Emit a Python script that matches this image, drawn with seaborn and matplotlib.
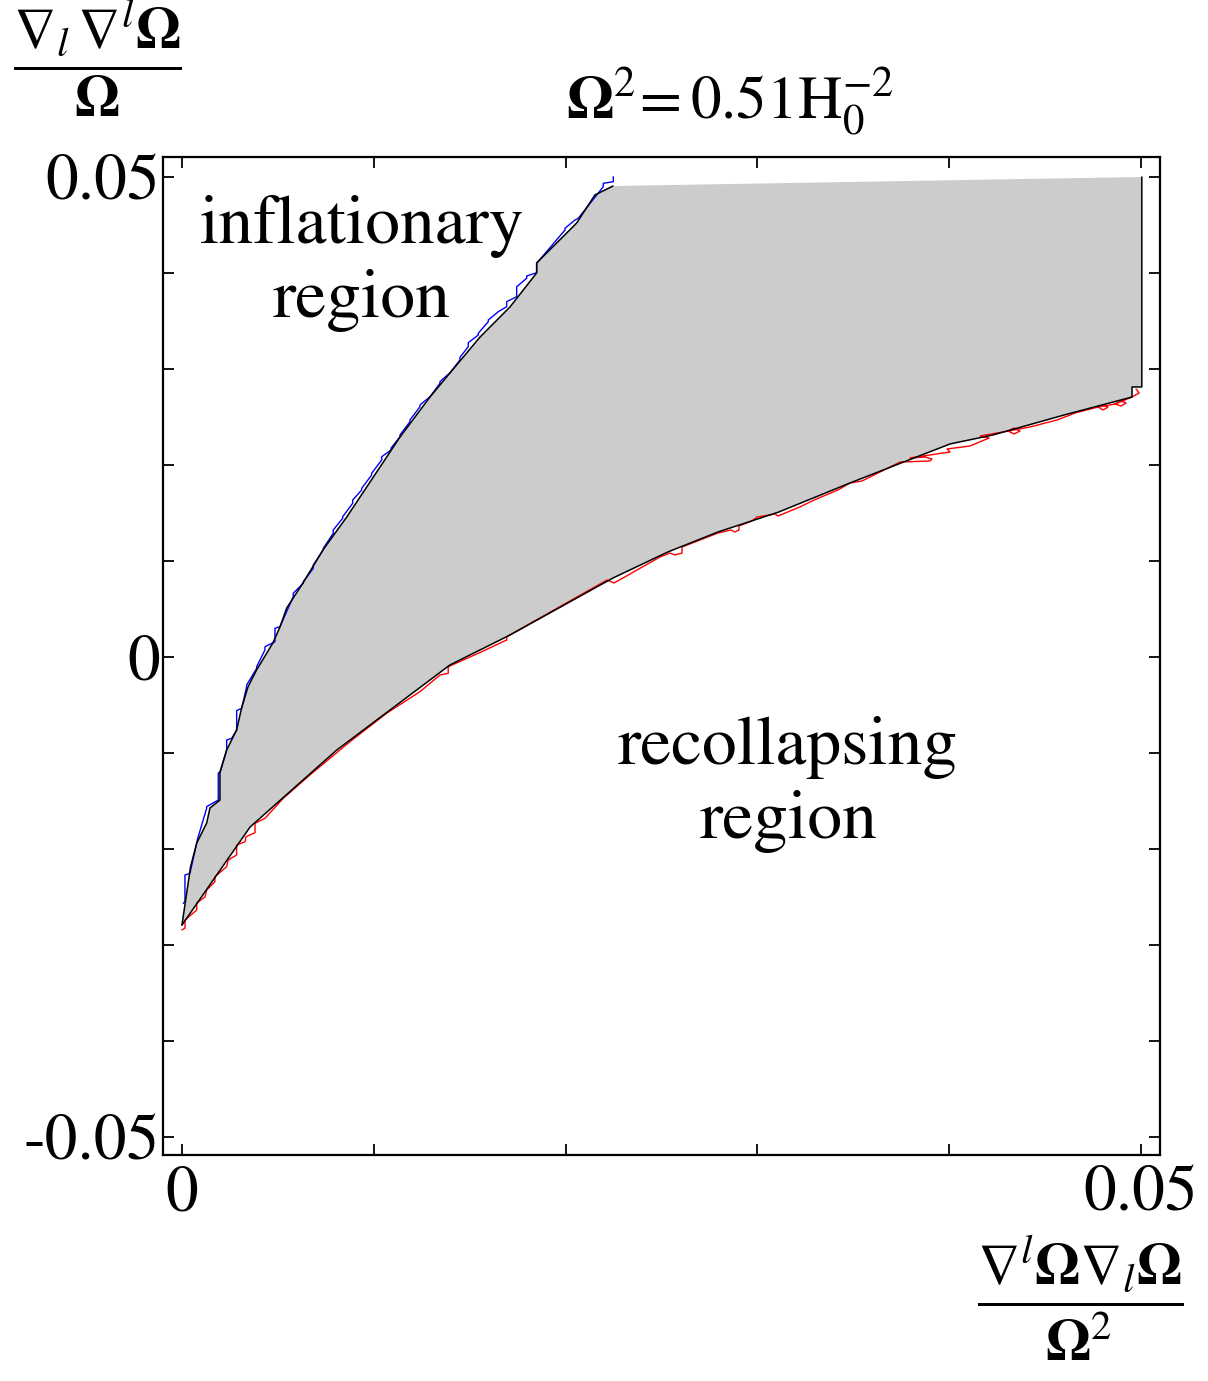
import numpy as np
import pandas as pd
import matplotlib
matplotlib.use("Agg")
import matplotlib.pyplot as plt
import seaborn as sns

# upper-left edge of the gray region (black line), from the bottom corner up
upper_x = [0.0, 0.00045, 0.00077, 0.00129, 0.00146, 0.00198, 0.00198, 0.00233,
           0.00285, 0.00311, 0.00344, 0.00389, 0.00474, 0.00511, 0.00546, 0.00631,
           0.00735, 0.00859, 0.01137, 0.01293, 0.01397, 0.01554, 0.01710, 0.01849,
           0.01849, 0.02058, 0.02153, 0.02247]
upper_y = [-0.02792, -0.02184, -0.01938, -0.01729, -0.01573, -0.01490, -0.01208, -0.00969,
           -0.00760, -0.00531, -0.00313, -0.00135, 0.00146, 0.00313, 0.00510, 0.00771,
           0.01115, 0.01458, 0.02292, 0.02708, 0.02958, 0.03333, 0.03646, 0.04000,
           0.04104, 0.04521, 0.04813, 0.04906]

# right edge + lower edge (black line), from the top right back to the corner
lower_x = [0.05004, 0.05004, 0.04953, 0.04953, 0.04599, 0.04228, 0.04004, 0.03762,
           0.03483, 0.03111, 0.02794, 0.02533, 0.02247, 0.01710, 0.01397, 0.00807,
           0.00355, 0.0]
lower_y = [0.05000, 0.02813, 0.02813, 0.02708, 0.02521, 0.02313, 0.02219, 0.02031,
           0.01813, 0.01510, 0.01302, 0.01094, 0.00823, 0.00229, -0.00083, -0.00969,
           -0.01771, -0.02792]

# blue contour (inflation limit), a staircase just left of the upper edge
blue_pts = [
    (0.000068, -0.02566), (0.000156, -0.02549), (0.000156, -0.02271), (0.000417, -0.02253),
    (0.000766, -0.01941), (0.000798, -0.01906), (0.001288, -0.01576), (0.001288, -0.01559),
    (0.001893, -0.01490), (0.001893, -0.01211), (0.001981, -0.01195), (0.002331, -0.00969),
    (0.002331, -0.00865), (0.002591, -0.00847), (0.002852, -0.00760), (0.002852, -0.00559),
    (0.003113, -0.00534), (0.003373, -0.00309), (0.003373, -0.00292), (0.003895, -0.00118),
    (0.003895, -0.00101), (0.004327, 0.00073), (0.004327, 0.00107), (0.004849, 0.00159),
    (0.004849, 0.00299), (0.005109, 0.00316), (0.005803, 0.00628), (0.005803, 0.00664),
    (0.006324, 0.00768), (0.006324, 0.00784), (0.006846, 0.00924), (0.006846, 0.00958),
    (0.007367, 0.01115), (0.007367, 0.01132), (0.007888, 0.01289), (0.007888, 0.01323),
    (0.008379, 0.01445), (0.008379, 0.01461), (0.008900, 0.01601), (0.008900, 0.01635),
    (0.009369, 0.01740), (0.009369, 0.01757), (0.009891, 0.01896), (0.009891, 0.01914),
    (0.010412, 0.02052), (0.010412, 0.02086), (0.010897, 0.02156), (0.010897, 0.02174),
    (0.011366, 0.02295), (0.011366, 0.02313), (0.011887, 0.02451), (0.011887, 0.02469),
    (0.012409, 0.02607), (0.012409, 0.02625), (0.012930, 0.02711), (0.013452, 0.02851),
    (0.013452, 0.02868), (0.013973, 0.02961), (0.014494, 0.03094), (0.014494, 0.03122),
    (0.014927, 0.03232), (0.014927, 0.03274), (0.015448, 0.03354), (0.015448, 0.03372),
    (0.015970, 0.03493), (0.015970, 0.03510), (0.016491, 0.03597), (0.016929, 0.03649),
    (0.016929, 0.03701), (0.017451, 0.03753), (0.017451, 0.03857), (0.017972, 0.03945),
    (0.017972, 0.03969), (0.018493, 0.04003), (0.018493, 0.04101), (0.019969, 0.04448),
    (0.019969, 0.04466), (0.020490, 0.04552), (0.020662, 0.04570), (0.021966, 0.04899),
    (0.021966, 0.04934), (0.022487, 0.04951), (0.022487, 0.05003),
]

# red contour (recollapse limit), wiggly, just under the lower edge
red_pts = [
    (0.00000, -0.02844), (0.00016, -0.02823), (0.00016, -0.02740), (0.00077, -0.02635),
    (0.00077, -0.02563), (0.00120, -0.02500), (0.00129, -0.02427), (0.00172, -0.02341),
    (0.00172, -0.02289), (0.00233, -0.02184), (0.00241, -0.02115), (0.00285, -0.02063),
    (0.00285, -0.01958), (0.00329, -0.01924), (0.00334, -0.01872), (0.00381, -0.01830),
    (0.00381, -0.01732), (0.00433, -0.01680), (0.00528, -0.01472), (0.00667, -0.01229),
    (0.00876, -0.00882), (0.01067, -0.00586), (0.01241, -0.00361), (0.01345, -0.00188),
    (0.01388, -0.00170), (0.01388, -0.00101), (0.01545, 0.00039), (0.01693, 0.00177),
    (0.01693, 0.00211), (0.02216, 0.00802), (0.02252, 0.00771), (0.02299, 0.00823),
    (0.02492, 0.01042), (0.02544, 0.01083), (0.02570, 0.01063), (0.02607, 0.01083),
    (0.02607, 0.01146), (0.02701, 0.01219), (0.02795, 0.01292), (0.02862, 0.01323),
    (0.02883, 0.01302), (0.02904, 0.01323), (0.02904, 0.01365), (0.02972, 0.01417),
    (0.02998, 0.01458), (0.03092, 0.01490), (0.03107, 0.01469), (0.03222, 0.01563),
    (0.03295, 0.01635), (0.03420, 0.01740), (0.03483, 0.01813), (0.03545, 0.01833),
    (0.03744, 0.02031), (0.03900, 0.02042), (0.03910, 0.02063), (0.03874, 0.02083),
    (0.03796, 0.02073), (0.03968, 0.02125), (0.04004, 0.02135), (0.03989, 0.02167),
    (0.04108, 0.02198), (0.04208, 0.02281), (0.04161, 0.02302), (0.04307, 0.02354),
    (0.04338, 0.02323), (0.04369, 0.02354), (0.04338, 0.02385), (0.04307, 0.02354),
    (0.04421, 0.02396), (0.04562, 0.02469), (0.04630, 0.02521), (0.04656, 0.02542),
    (0.04776, 0.02604), (0.04802, 0.02573), (0.04828, 0.02604), (0.04802, 0.02625),
    (0.04776, 0.02604), (0.04864, 0.02635), (0.04896, 0.02615), (0.04922, 0.02646),
    (0.04896, 0.02667), (0.04864, 0.02635), (0.04953, 0.02708), (0.04990, 0.02750),
    (0.04974, 0.02792),
]

xticks = [0.0, 0.01, 0.02, 0.03, 0.04, 0.05]
xticklabels = ["0", "", "", "", "", "0.05"]
yticks = [-0.05, -0.04, -0.03, -0.02, -0.01, 0.0, 0.01, 0.02, 0.03, 0.04, 0.05]
yticklabels = ["-0.05", "", "", "", "", "0", "", "", "", "", "0.05"]

sns.set_style("ticks")
plt.rcParams['font.family'] = ['STIXGeneral', 'DejaVu Serif']
plt.rcParams['mathtext.fontset'] = 'stix'
plt.rcParams['text.color'] = 'black'
plt.rcParams['xtick.color'] = 'black'
plt.rcParams['ytick.color'] = 'black'

fig = plt.figure(figsize=(12.08, 13.81), dpi=100)
ax = fig.add_axes([0.1349, 0.1636, 0.8254, 0.7227])

# gray allowed region
ax.fill(upper_x + lower_x, upper_y + lower_y, color="#cccccc", lw=0, zorder=1)

blue = pd.DataFrame(blue_pts, columns=["x", "y"])
red = pd.DataFrame(red_pts, columns=["x", "y"])
sns.lineplot(data=blue, x="x", y="y", sort=False, estimator=None, color="blue", lw=1.0, ax=ax, zorder=2)
sns.lineplot(data=red, x="x", y="y", sort=False, estimator=None, color="red", lw=1.0, ax=ax, zorder=2)
sns.lineplot(x=upper_x, y=upper_y, sort=False, estimator=None, color="black", lw=1.1, ax=ax, zorder=3)
sns.lineplot(x=lower_x, y=lower_y, sort=False, estimator=None, color="black", lw=1.1, ax=ax, zorder=3)

ax.set_xlim(-0.00099, 0.05099)
ax.set_ylim(-0.05188, 0.05208)
ax.set_xticks(xticks)
ax.set_xticklabels(xticklabels)
ax.set_yticks(yticks)
ax.set_yticklabels(yticklabels)
ax.tick_params(direction="in", length=8, width=1.3, top=True, right=True,
               labelsize=47, colors="black")
ax.tick_params(axis="x", pad=8)
ax.tick_params(axis="y", pad=2)
ax.set_xlabel("")
ax.set_ylabel("")
for s in ax.spines.values():
    s.set_linewidth(1.6)
    s.set_color("black")

ax.text(0.00938, 0.0410, "inflationary\nregion", ha="center", va="center",
        fontsize=50, linespacing=1.22)
ax.text(0.0316, -0.0133, "recollapsing\nregion", ha="center", va="center",
        fontsize=50, linespacing=1.22)

fig.text(0.604, 0.9146, r"$\mathbf{\Omega}^{2}\!=0.51\mathrm{H}_{0}^{-2}$",
         ha="center", va="baseline", fontsize=44)
fig.text(0.0811, 0.958, r"$\dfrac{\nabla_{l}\,\nabla^{l}\mathbf{\Omega}}{\mathbf{\Omega}}$",
         ha="center", va="center", fontsize=42)
fig.text(0.894, 0.0600, r"$\dfrac{\nabla^{l}\mathbf{\Omega}\nabla_{l}\mathbf{\Omega}}{\mathbf{\Omega}^{2}}$",
         ha="center", va="center", fontsize=42)

fig.savefig("out.png", dpi=100)
